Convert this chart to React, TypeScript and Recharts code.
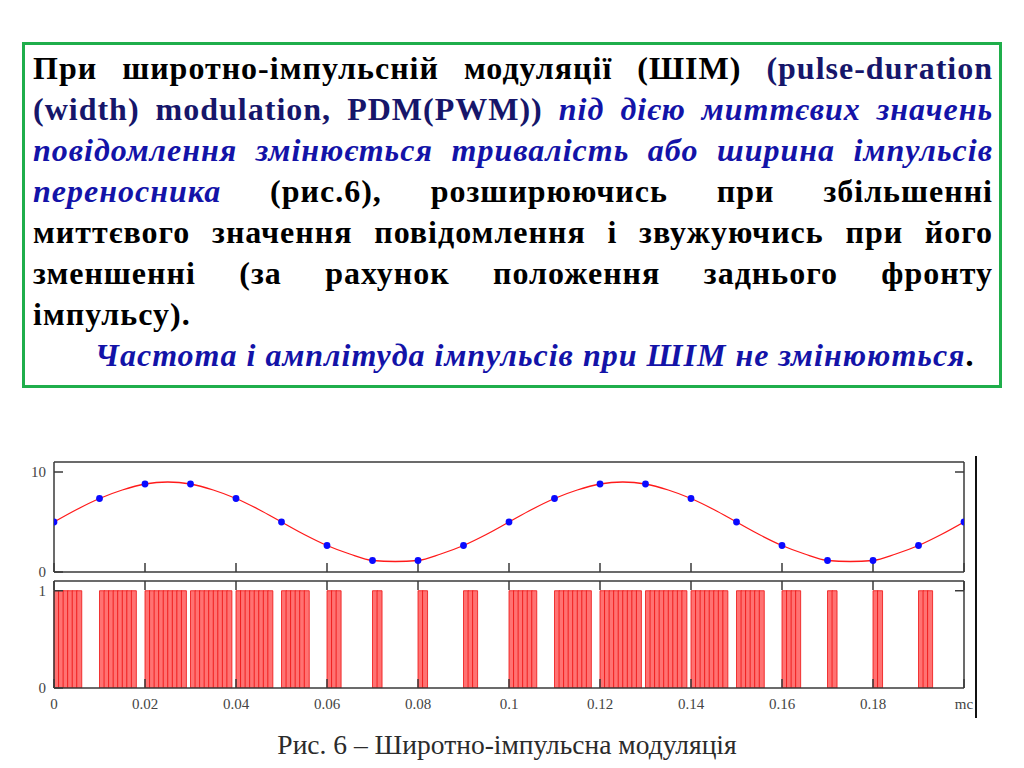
import React from 'react';
import { ComposedChart, Line, Bar, XAxis, YAxis } from 'recharts';

// Повідомлення: відліки (сині точки), крок 0.01 с
const dotTimes = [0, 0.01, 0.02, 0.03, 0.04, 0.05, 0.06, 0.07, 0.08, 0.09, 0.1, 0.11, 0.12, 0.13, 0.14, 0.15, 0.16, 0.17, 0.18, 0.19, 0.2];
const dotValues = [5.0, 7.35, 8.8, 8.8, 7.35, 5.0, 2.65, 1.15, 1.15, 2.65, 5.0, 7.35, 8.8, 8.8, 7.35, 5.0, 2.65, 1.15, 1.15, 2.65, 5.0];

// Повідомлення: червона крива, прочитана з кроком 0.005 с
const curveTimes = [
  0, 0.005, 0.01, 0.015, 0.02, 0.025, 0.03, 0.035, 0.04, 0.045, 0.05, 0.055, 0.06, 0.065, 0.07, 0.075, 0.08, 0.085, 0.09, 0.095,
  0.1, 0.105, 0.11, 0.115, 0.12, 0.125, 0.13, 0.135, 0.14, 0.145, 0.15, 0.155, 0.16, 0.165, 0.17, 0.175, 0.18, 0.185, 0.19, 0.195, 0.2,
];
const curveValues = [
  5.0, 6.25, 7.35, 8.2, 8.8, 9.0, 8.8, 8.2, 7.35, 6.25, 5.0, 3.75, 2.65, 1.8, 1.15, 1.05, 1.15, 1.8, 2.65, 3.75,
  5.0, 6.25, 7.35, 8.2, 8.8, 9.0, 8.8, 8.2, 7.35, 6.25, 5.0, 3.75, 2.65, 1.8, 1.15, 1.05, 1.15, 1.8, 2.65, 3.75, 5.0,
];

// ШІМ: тривалість кожного імпульсу у відліках (відлік 0.001 с, період 10 відліків)
const pulseWidths = [6, 8, 9, 9, 8, 6, 3, 2, 2, 3, 6, 8, 9, 9, 8, 6, 4, 2, 2, 3];
const samplesPerPeriod = 10;
const sampleStep = 0.001;

const timeTicks = [0, 0.02, 0.04, 0.06, 0.08, 0.1, 0.12, 0.14, 0.16, 0.18, 0.2];
const valueTicks = [0, 10];
const levelTicks = [0, 1];

const curveData = curveTimes.map((t, i) => ({ t, v: curveValues[i] }));
const dotData = dotTimes.map((t, i) => ({ t, v: dotValues[i] }));
const pwmData = pulseWidths.flatMap((w, p) =>
  Array.from({ length: samplesPerPeriod }, (_, k) => {
    const sample = p * samplesPerPeriod + k;
    return { sample, t: sample * sampleStep, level: k < w ? 1 : 0 };
  })
);

const AXIS = '#3a3a3a';
const SERIF = '"Liberation Serif", "Times New Roman", serif';
const tickFont = { fontFamily: SERIF, fontSize: 15, fill: '#444' };
const noLabel = () => '';

const BLACK = '#000';
const NAVY = '#16166a';
const BLUE = '#1313a8';

const lineStyle: React.CSSProperties = { textAlign: 'justify', textAlignLast: 'justify' };
const it: React.CSSProperties = { fontStyle: 'italic', color: BLUE };

export default function App() {
  return (
    <div style={{ position: 'absolute', left: 0, top: 0, width: 1024, height: 768, background: '#fff', overflow: 'hidden' }}>
      {/* Текстовий блок */}
      <div
        style={{
          position: 'absolute',
          left: 22,
          top: 42,
          width: 980,
          height: 346,
          boxSizing: 'border-box',
          border: '3px solid #1fae4b',
          padding: '3px 6px 0 8px',
          fontFamily: SERIF,
          fontWeight: 'bold',
          fontSize: 32,
          letterSpacing: 1,
          lineHeight: '41px',
          color: BLACK,
        }}
      >
        <div style={lineStyle}>
          При широтно-імпульсній модуляції (ШІМ) <span style={{ color: NAVY }}>(pulse-duration</span>
        </div>
        <div style={lineStyle}>
          <span style={{ color: NAVY }}>(width) modulation, PDM(PWM))</span> <span style={it}>під дією миттєвих значень</span>
        </div>
        <div style={lineStyle}>
          <span style={it}>повідомлення змінюється тривалість або ширина імпульсів</span>
        </div>
        <div style={lineStyle}>
          <span style={it}>переносника</span> (рис.6), розширюючись при збільшенні
        </div>
        <div style={lineStyle}>миттєвого значення повідомлення і звужуючись при його</div>
        <div style={lineStyle}>зменшенні (за рахунок положення заднього фронту</div>
        <div>імпульсу).</div>
        <div style={{ paddingLeft: 62 }}>
          <span style={it}>Частота і амплітуда імпульсів при ШІМ не змінюються</span>.
        </div>
      </div>

      {/* Верхня панель: повідомлення */}
      <div style={{ position: 'absolute', left: 0, top: 440 }}>
        <ComposedChart width={1000} height={140} margin={{ top: 20, right: 26, bottom: 6, left: 14 }}>
          <XAxis xAxisId="time" type="number" dataKey="t" domain={[0, 0.2]} allowDataOverflow ticks={timeTicks} interval={0}
            height={2} tickSize={-9} tickFormatter={noLabel} stroke={AXIS} strokeWidth={1.5} />
          <XAxis xAxisId="timeTop" orientation="top" type="number" domain={[0, 0.2]} allowDataOverflow ticks={timeTicks}
            interval={0} height={2} tickSize={-9} tickFormatter={noLabel} stroke={AXIS} strokeWidth={1.5} />
          <YAxis yAxisId="value" type="number" domain={[0, 11]} allowDataOverflow ticks={valueTicks} interval={0}
            width={40} tickSize={-9} tickMargin={17} tick={tickFont} stroke={AXIS} strokeWidth={1.5} />
          <YAxis yAxisId="valueRight" orientation="right" type="number" domain={[0, 11]} allowDataOverflow ticks={[10]}
            interval={0} width={10} tickSize={-9} tickFormatter={noLabel} stroke={AXIS} strokeWidth={1.5} />
          <Line xAxisId="time" yAxisId="value" data={curveData} dataKey="v" type="monotone" stroke="#ff1a1a"
            strokeWidth={1.3} dot={false} activeDot={false} isAnimationActive={false} />
          <Line xAxisId="time" yAxisId="value" data={dotData} dataKey="v" stroke="none"
            dot={{ r: 3.4, fill: '#0a0aff', stroke: 'none' }} activeDot={false} isAnimationActive={false} />
        </ComposedChart>
      </div>

      {/* Нижня панель: ШІМ-сигнал */}
      <div style={{ position: 'absolute', left: 0, top: 578 }}>
        <ComposedChart width={1000} height={142} data={pwmData} margin={{ top: 1, right: 26, bottom: 2, left: 14 }}
          barCategoryGap={0} barGap={0}>
          <XAxis xAxisId="time" type="number" dataKey="t" domain={[0, 0.2]} allowDataOverflow ticks={timeTicks} interval={0}
            height={30} tickSize={-9} tickMargin={19} tick={tickFont} stroke={AXIS} strokeWidth={1.5}
            tickFormatter={(v: number) => (v === 0.2 ? 'mc' : String(v))} />
          <XAxis xAxisId="samples" dataKey="sample" type="category" hide height={0} />
          <XAxis xAxisId="timeTop" orientation="top" type="number" dataKey="t" domain={[0, 0.2]} allowDataOverflow
            ticks={timeTicks} interval={0} height={2} tickSize={-9} tickFormatter={noLabel} stroke={AXIS} strokeWidth={1.5} />
          <YAxis yAxisId="level" type="number" domain={[0, 1.1]} allowDataOverflow ticks={levelTicks} interval={0}
            width={40} tickSize={-9} tickMargin={17} tick={tickFont} stroke={AXIS} strokeWidth={1.5} />
          <YAxis yAxisId="levelRight" orientation="right" type="number" domain={[0, 1.1]} allowDataOverflow ticks={[1]}
            interval={0} width={10} tickSize={-9} tickFormatter={noLabel} stroke={AXIS} strokeWidth={1.5} />
          <Bar xAxisId="samples" yAxisId="level" dataKey="level" fill="#ff7272" stroke="#ee1010"
            strokeWidth={0.8} isAnimationActive={false} />
        </ComposedChart>
      </div>

      {/* Рамка вікна праворуч */}
      <div style={{ position: 'absolute', left: 975, top: 456, width: 2, height: 262, background: '#111' }} />

      {/* Підпис */}
      <div
        style={{
          position: 'absolute',
          left: 0,
          top: 729,
          width: 1014,
          textAlign: 'center',
          fontFamily: SERIF,
          fontSize: 27.5,
          lineHeight: '32px',
          color: '#2b2b2b',
        }}
      >
        Рис. 6 – Широтно-імпульсна модуляція
      </div>
    </div>
  );
}
